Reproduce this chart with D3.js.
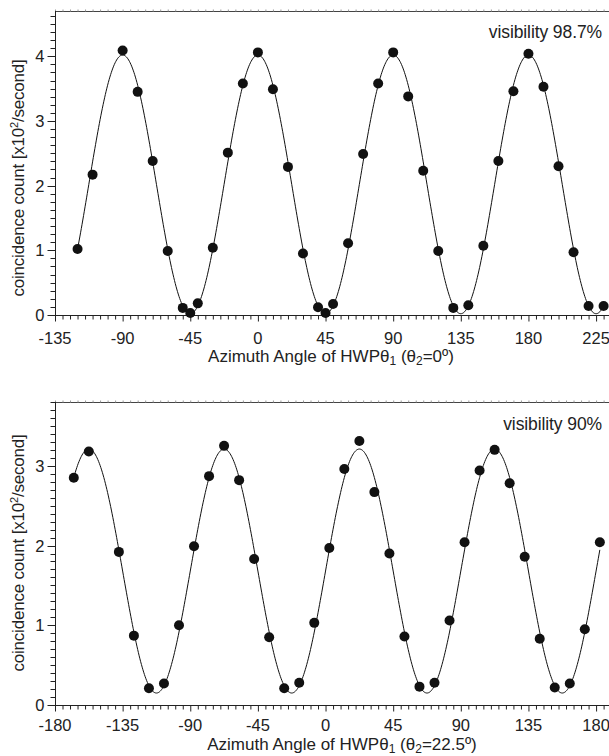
<!DOCTYPE html>
<html><head><meta charset="utf-8">
<script src="https://cdn.jsdelivr.net/npm/d3@7"></script>
<style>
html,body{margin:0;padding:0;background:#fff;}
svg text{font-family:"Liberation Sans",Arial,sans-serif;fill:#222;}
</style></head>
<body>
<script>
// ---- data: top panel (theta2 = 0°) ----
const topAngles = [-120,-110,-90,-80,-70,-60,-50,-45,-40,-30,-20,-10,0,10,20,30,40,45,50,60,70,80,90,100,110,120,130,140,150,160,170,180,190,200,210,220,230];
const topCounts = [1.02,2.17,4.09,3.45,2.38,0.99,0.11,0.03,0.18,1.04,2.51,3.58,4.06,3.49,2.29,0.95,0.12,0.03,0.17,1.11,2.49,3.58,4.06,3.38,2.23,0.99,0.11,0.15,1.07,2.38,3.46,4.04,3.53,2.30,0.97,0.14,0.14];
// fit parameters: [offset, amplitude, peak angle, period]
const topFit = [2.02, 2.0, 0, 90];
const topFitRange = [-120, 230];
const topXTicks = [-135,-90,-45,0,45,90,135,180,225];
const topYTicks = [0,1,2,3,4];
const topLabel = "visibility 98.7%";

// ---- data: bottom panel (theta2 = 22.5°) ----
const botAngles = [-167.5,-157.5,-137.5,-127.5,-117.5,-107.5,-97.5,-87.5,-77.5,-67.5,-57.5,-47.5,-37.5,-27.5,-17.5,-7.5,2.5,12.5,22.5,32.5,42.5,52.5,62.5,72.5,82.5,92.5,102.5,112.5,122.5,132.5,142.5,152.5,162.5,172.5,182.5];
const botCounts = [2.85,3.18,1.92,0.87,0.21,0.27,1.00,1.99,2.87,3.25,2.82,1.83,0.85,0.21,0.28,1.03,1.97,2.96,3.31,2.67,1.90,0.86,0.23,0.28,1.06,2.04,2.94,3.20,2.78,1.86,0.83,0.22,0.27,0.95,2.04];
const botFit = [1.68, 1.53, 22.5, 90];
const botFitRange = [-167.5, 182.5];
const botXTicks = [-180,-135,-90,-45,0,45,90,135,180];
const botYTicks = [0,1,2,3];
const botLabel = "visibility 90%";

const W = 609, H = 756;
const svg = d3.select("body").append("svg").attr("width", W).attr("height", H);

function panel(cfg){
  const g = svg.append("g");
  const x = d3.scaleLinear().domain(cfg.xDomain).range([55, 606.6]);
  const y = d3.scaleLinear().domain(cfg.yDomain).range([cfg.y0, cfg.y1]);

  // top border with tiny ticks
  g.append("line").attr("x1",55).attr("x2",W).attr("y1",cfg.y1+0.5).attr("y2",cfg.y1+0.5)
    .attr("stroke","#444").attr("stroke-width",1);
  const minorX = d3.range(cfg.xDomain[0], cfg.xDomain[1]+0.01, 5);
  g.selectAll(".tt").data(minorX).enter().append("line")
    .attr("x1",d=>x(d)+0.5).attr("x2",d=>x(d)+0.5)
    .attr("y1",cfg.y1+0.5).attr("y2",cfg.y1-1.5)
    .attr("stroke","#999").attr("stroke-width",1);

  // bottom axis
  const xa = g.append("g").attr("transform",`translate(0,${cfg.y0+0.5})`);
  xa.append("line").attr("x1",55).attr("x2",W).attr("stroke","#222");
  xa.selectAll(".mx").data(minorX).enter().append("line")
    .attr("x1",d=>x(d)+0.5).attr("x2",d=>x(d)+0.5).attr("y1",0)
    .attr("y2",d=>cfg.xTicks.includes(d)?6:4).attr("stroke","#222");
  xa.selectAll(".lx").data(cfg.xTicks).enter().append("text")
    .attr("x",d=>x(d)).attr("y",cfg.xLabelDy).attr("text-anchor","middle")
    .attr("font-size",16.5).text(d=>d);

  // left axis
  const ya = g.append("g").attr("transform",`translate(55.5,0)`);
  ya.append("line").attr("y1",cfg.y0+0.5).attr("y2",cfg.y1).attr("stroke","#222");
  const minorY = d3.range(0, cfg.yDomain[1]+1e-6, cfg.yMinor);
  ya.selectAll(".my").data(minorY).enter().append("line")
    .attr("y1",d=>Math.round(y(d))+0.5).attr("y2",d=>Math.round(y(d))+0.5)
    .attr("x1",d=>cfg.yTicks.some(t=>Math.abs(t-d)<1e-6)?-8:-5).attr("x2",0).attr("stroke","#222");
  ya.selectAll(".ly").data(cfg.yTicks).enter().append("text")
    .attr("x",-11).attr("y",d=>y(d)+6).attr("text-anchor","end")
    .attr("font-size",16.5).text(d=>d);

  // fit curve
  const [off, amp, pk, per] = cfg.fit;
  const xs = d3.range(cfg.fitRange[0], cfg.fitRange[1]+0.001, 0.5);
  const line = d3.line().x(d=>x(d)).y(d=>y(off + amp*Math.cos(2*Math.PI*(d-pk)/per)));
  g.append("path").attr("d", line(xs)).attr("fill","none").attr("stroke","#111").attr("stroke-width",1);

  // points
  g.selectAll(".pt").data(cfg.angles).enter().append("circle")
    .attr("cx",d=>x(d)).attr("cy",(d,i)=>y(cfg.counts[i])).attr("r",5).attr("fill","#111");

  // visibility label
  g.append("text").attr("x",602).attr("y",cfg.visY).attr("text-anchor","end")
    .attr("font-size",17.5).attr("letter-spacing",-0.1).text(cfg.label);

  // x title
  const xt = g.append("text").attr("x",cfg.xTitleX).attr("y",cfg.xTitleY).attr("text-anchor","middle").attr("font-size",17);
  xt.append("tspan").text("Azimuth Angle of HWPθ");
  xt.append("tspan").attr("font-size",12).attr("dy",3).text("1");
  xt.append("tspan").attr("dy",-3).text(" (θ");
  xt.append("tspan").attr("font-size",12).attr("dy",3).text("2");
  xt.append("tspan").attr("dy",-3).text("=" + cfg.theta2 + "º)");

  // y title
  const yt = g.append("text").attr("transform",`translate(${cfg.yTitleX},${cfg.yTitleY}) rotate(-90)`)
    .attr("text-anchor","middle").attr("font-size",17).attr("letter-spacing",-0.2);
  yt.append("tspan").text("coincidence count [x10");
  yt.append("tspan").attr("font-size",11).attr("dy",-6).text("2");
  yt.append("tspan").attr("dy",6).text("/second]");
}

panel({xDomain:[-135,232], yDomain:[0,4.7], y0:315, y1:11, xTicks:topXTicks, yTicks:topYTicks, yMinor:0.125,
  angles:topAngles, counts:topCounts, fit:topFit, fitRange:topFitRange, label:topLabel, visY:38,
  xLabelDy:28, xTitleX:331, xTitleY:362, theta2:"0", yTitleX:24, yTitleY:178});
panel({xDomain:[-180,187], yDomain:[0,3.8], y0:705, y1:402, xTicks:botXTicks, yTicks:botYTicks, yMinor:0.1,
  angles:botAngles, counts:botCounts, fit:botFit, fitRange:botFitRange, label:botLabel, visY:430,
  xLabelDy:25, xTitleX:342, xTitleY:749.5, theta2:"22.5", yTitleX:24, yTitleY:553});
</script>
</body></html>
